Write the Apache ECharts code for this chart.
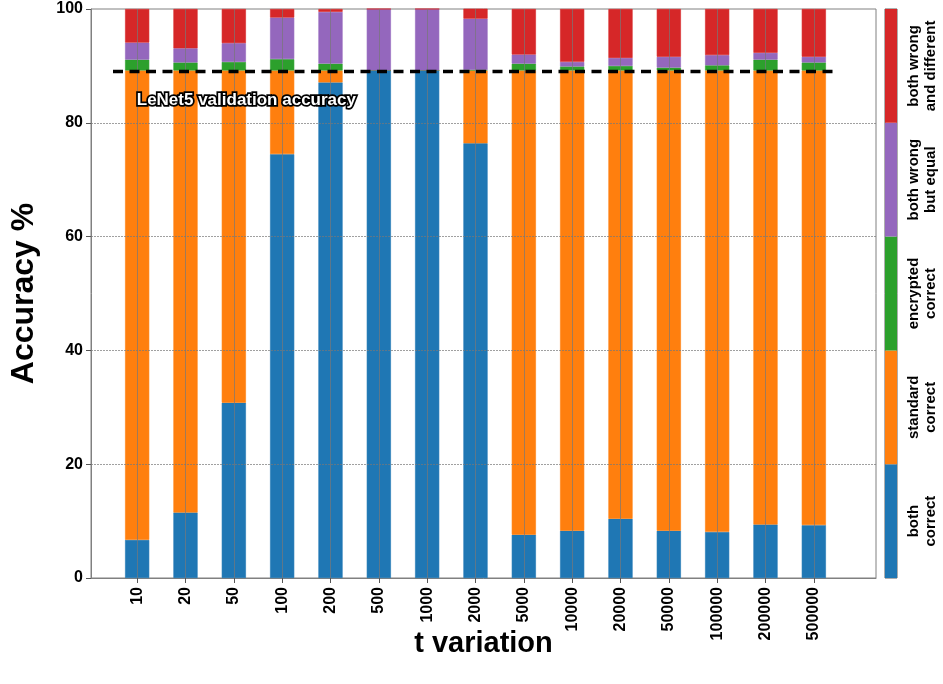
<!DOCTYPE html>
<html>
<head>
<meta charset="utf-8">
<script src="https://cdn.jsdelivr.net/npm/echarts@6/dist/echarts.min.js"></script>
<style>
html,body{margin:0;padding:0;background:#fff;}
#chart{width:943px;height:684px;}
</style>
</head>
<body>
<div id="chart"></div>
<script>
const categories = ['10','20','50','100','200','500','1000','2000','5000','10000','20000','50000','100000','200000','500000'];
const bothCorrect      = [6.7, 11.5, 30.8, 74.5, 87.1, 89.2, 89.2, 76.4, 7.6, 8.3, 10.4, 8.3, 8.1, 9.4, 9.3];
const standardCorrect  = [82.5, 77.7, 58.4, 14.7, 2.1, 0.0, 0.0, 12.8, 81.6, 80.9, 78.8, 80.9, 81.1, 79.8, 79.9];
const encryptedCorrect = [1.9, 1.4, 1.5, 2.0, 1.2, 0.0, 0.0, 0.1, 1.2, 0.7, 0.8, 0.5, 0.9, 1.9, 1.4];
const wrongEqual       = [3.0, 2.5, 3.3, 7.3, 9.1, 10.8, 10.8, 9.0, 1.6, 0.8, 1.4, 1.9, 1.8, 1.2, 1.0];
const wrongDifferent   = [5.9, 6.9, 6.0, 1.5, 0.5, 0.0, 0.0, 1.8, 8.0, 9.3, 8.6, 8.4, 8.1, 7.7, 8.4];
const seriesNames = ['both correct','standard correct','encrypted correct','both wrong but equal','both wrong and different'];
const colorbarLabels = ['both\ncorrect','standard\ncorrect','encrypted\ncorrect','both wrong\nbut equal','both wrong\nand different'];
const colorbarValues = [1, 1, 1, 1, 1];
const yTicks = [0, 20, 40, 60, 80, 100];
const validationAccuracy = 89.1;
const validationLabel = 'LeNet5 validation accuracy';

const colors = ['#1f77b4','#ff7f0e','#2ca02c','#9467bd','#d62728'];
const allSeries = [bothCorrect, standardCorrect, encryptedCorrect, wrongEqual, wrongDifferent];
const FONT = '"Liberation Sans", Arial, sans-serif';
const gridColor = 'rgba(120,120,120,0.7)';

const chart = echarts.init(document.getElementById('chart'), null, {renderer: 'canvas'});

const series = allSeries.map((arr, s) => ({
  name: seriesNames[s],
  type: 'bar',
  stack: 'total',
  xAxisIndex: 1, yAxisIndex: 1,
  barWidth: '50%',
  data: arr,
  itemStyle: {color: colors[s], borderColor: colors[s], borderWidth: 0.6},
  emphasis: {disabled: true},
  z: 2
}));

// horizontal grid lines over the bars (full frame width)
series.push({
  type: 'line', xAxisIndex: 0, yAxisIndex: 0, data: [], z: 5, silent: true,
  markLine: {
    silent: true, symbol: 'none', label: {show: false}, animation: false,
    data: yTicks.filter(t => t > 0 && t < 100).map(t => ({yAxis: t, lineStyle: {color: gridColor, width: 1, type: [2, 1]}}))
  }
});

// vertical grid lines through bar centres + validation dashed line
series.push({
  type: 'line', xAxisIndex: 1, yAxisIndex: 1, data: [], z: 6, silent: true,
  markLine: {
    silent: true, symbol: 'none', label: {show: false}, animation: false,
    data: categories.map((c, i) => ({xAxis: i, lineStyle: {color: gridColor, width: 1, type: 'solid'}}))
      .concat([{yAxis: validationAccuracy, lineStyle: {color: '#000', width: 3.4, type: [10, 6.5]}}])
  }
});

// colorbar
series.push({
  type: 'bar',
  xAxisIndex: 2, yAxisIndex: 2,
  barWidth: '100%',
  data: colorbarValues.map((v, i) => ({value: v, itemStyle: {color: colors[i]}})),
  silent: true
});

chart.setOption({
  animation: false,
  backgroundColor: '#fff',
  grid: [
    {left: 75, right: 67, top: 9, bottom: 106, show: true, borderColor: '#808080', borderWidth: 1},
    {left: 113, right: 105, top: 9, bottom: 106},
    {left: 885, width: 12, top: 9, bottom: 106, show: true, borderColor: '#333', borderWidth: 0.8}
  ],
  xAxis: [
    {
      type: 'value', gridIndex: 0, min: 0, max: 1,
      name: 't variation', nameLocation: 'middle', nameGap: 51,
      nameTextStyle: {fontFamily: FONT, fontWeight: 'bold', fontSize: 29, color: '#000'},
      axisLine: {show: true, lineStyle: {color: '#808080'}},
      axisTick: {show: false}, axisLabel: {show: false}, splitLine: {show: false}
    },
    {
      type: 'category', gridIndex: 1, data: categories,
      axisLine: {show: false},
      axisTick: {show: true, alignWithLabel: true, length: 5, lineStyle: {color: '#555'}},
      axisLabel: {interval: 0, rotate: 90, margin: 9, fontFamily: FONT, fontWeight: 'bold', fontSize: 16, color: '#000'},
      splitLine: {show: false}
    },
    {type: 'value', gridIndex: 2, min: 0, max: 1, show: false}
  ],
  yAxis: [
    {
      type: 'value', gridIndex: 0, min: 0, max: 100, interval: 20,
      name: 'Accuracy %', nameLocation: 'middle', nameGap: 51,
      nameTextStyle: {fontFamily: FONT, fontWeight: 'bold', fontSize: 32, color: '#000'},
      axisLine: {show: true, lineStyle: {color: '#808080'}},
      axisTick: {show: true, length: 5, lineStyle: {color: '#555'}},
      axisLabel: {fontFamily: FONT, fontWeight: 'bold', fontSize: 16, color: '#000', margin: 8},
      splitLine: {show: false}
    },
    {type: 'value', gridIndex: 1, min: 0, max: 100, show: false},
    {
      type: 'category', gridIndex: 2, data: colorbarLabels, position: 'right',
      axisLine: {show: false}, axisTick: {show: false},
      axisLabel: {interval: 0, rotate: 90, margin: 8, fontFamily: FONT, fontWeight: 'bold', fontSize: 15, lineHeight: 17, color: '#000'},
      splitLine: {show: false}
    }
  ],
  graphic: [{
    type: 'text', left: 135, top: 90, z: 10,
    style: {text: validationLabel, font: 'bold 17px ' + FONT, fill: '#fff', stroke: '#000', lineWidth: 3.5}
  }],
  series: series
});
</script>
</body>
</html>
